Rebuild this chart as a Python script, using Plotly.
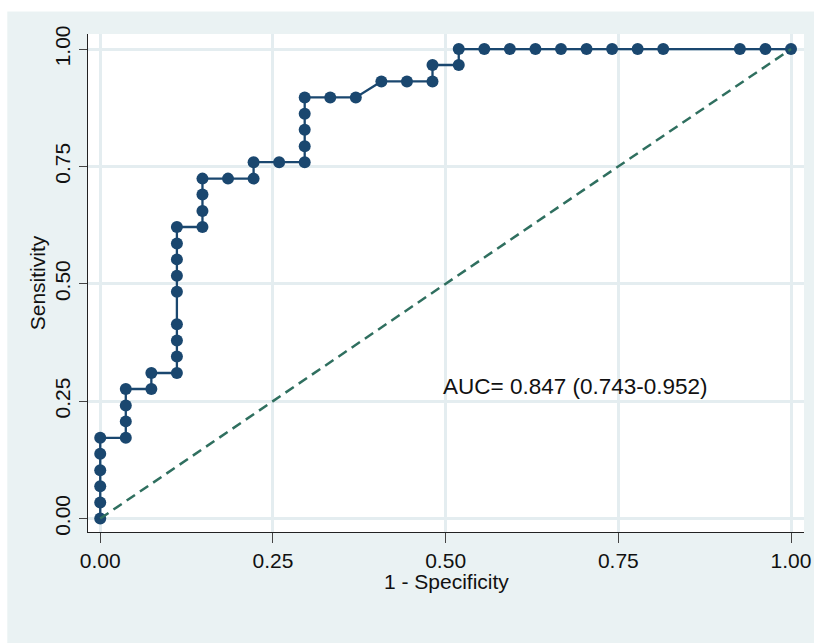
import plotly.graph_objects as go

# ROC points (1 - specificity, sensitivity)
fpr = [0, 0, 0, 0, 0, 0,
       0.037, 0.037, 0.037, 0.037,
       0.074, 0.074,
       0.111, 0.111, 0.111, 0.111, 0.111, 0.111, 0.111, 0.111, 0.111,
       0.148, 0.148, 0.148, 0.148,
       0.185, 0.222, 0.222,
       0.259, 0.296, 0.296, 0.296, 0.296, 0.296,
       0.333, 0.370, 0.407, 0.444, 0.481, 0.481, 0.519, 0.519,
       0.556, 0.593, 0.630, 0.667, 0.704, 0.741, 0.778, 0.815, 0.926, 0.963, 1.0]
tpr = [0, 0.034, 0.069, 0.103, 0.138, 0.172,
       0.172, 0.207, 0.241, 0.276,
       0.276, 0.310,
       0.310, 0.345, 0.379, 0.414, 0.483, 0.517, 0.552, 0.586, 0.621,
       0.621, 0.655, 0.690, 0.724,
       0.724, 0.724, 0.759,
       0.759, 0.759, 0.793, 0.828, 0.862, 0.897,
       0.897, 0.897, 0.931, 0.931, 0.931, 0.966, 0.966, 1.0,
       1.0, 1.0, 1.0, 1.0, 1.0, 1.0, 1.0, 1.0, 1.0, 1.0, 1.0]
ref_x = [0, 1]
ref_y = [0, 1]
tick_vals = [0, 0.25, 0.5, 0.75, 1.0]
tick_text = ["0.00", "0.25", "0.50", "0.75", "1.00"]
auc_label = "AUC= 0.847 (0.743-0.952)"
x_title = "1 - Specificity"
y_title = "Sensitivity"

NAVY = "#1A476F"
GREEN = "#2F6F5F"
BG = "#EAF2F3"
GRID = "#E4EDF0"
FONT = "Liberation Sans, Arial, sans-serif"

fig = go.Figure()
fig.add_trace(go.Scatter(x=fpr, y=tpr, mode="lines+markers",
                         line=dict(color=NAVY, width=2.3),
                         marker=dict(color=NAVY, size=12),
                         showlegend=False, hoverinfo="x+y"))
fig.add_trace(go.Scatter(x=ref_x, y=ref_y, mode="lines",
                         line=dict(color=GREEN, width=2.5, dash="10px,6px"),
                         showlegend=False, hoverinfo="skip"))

fig.add_annotation(x=0.494, y=0.282, xref="x", yref="y", text=auc_label,
                   showarrow=False, xanchor="left", yanchor="middle",
                   font=dict(family=FONT, size=22.5, color="#111"))
fig.add_annotation(x=0.5, y=-0.0985, xref="paper", yref="paper", text=x_title,
                   showarrow=False, xanchor="center", yanchor="middle",
                   font=dict(family=FONT, size=21, color="#111"))

# white strips at top and left edges (outside the light background)
fig.add_shape(type="rect", xref="paper", yref="paper",
              x0=-0.3, x1=1.2, y0=1.0452, y1=1.2,
              fillcolor="white", line=dict(width=0), layer="above")
fig.add_shape(type="rect", xref="paper", yref="paper",
              x0=-0.3, x1=-0.1127, y0=-0.3, y1=1.2,
              fillcolor="white", line=dict(width=0), layer="above")

axis_common = dict(
    tickvals=tick_vals, ticktext=tick_text,
    showgrid=True, gridcolor=GRID, gridwidth=2.5,
    zeroline=False, showline=True, linecolor="#222", linewidth=1.3,
    ticks="outside", tickcolor="#444", tickwidth=1.3,
    tickfont=dict(family=FONT, size=21, color="#111"),
    mirror=False, automargin=False,
)

fig.update_layout(
    width=814, height=643,
    margin=dict(l=88, r=10, t=34, b=111),
    paper_bgcolor=BG, plot_bgcolor="white",
    xaxis=dict(range=[-0.0177, 1.0188], ticklen=10, **axis_common),
    yaxis=dict(range=[-0.0286, 1.032], ticklen=8, tickangle=-90,
               title=dict(text=y_title, standoff=0,
                          font=dict(family=FONT, size=21, color="#111")),
               **axis_common),
)

fig.write_html("out.html", config={"displayModeBar": False},
               post_script="document.body.style.margin='0';document.body.style.overflow='hidden';")
